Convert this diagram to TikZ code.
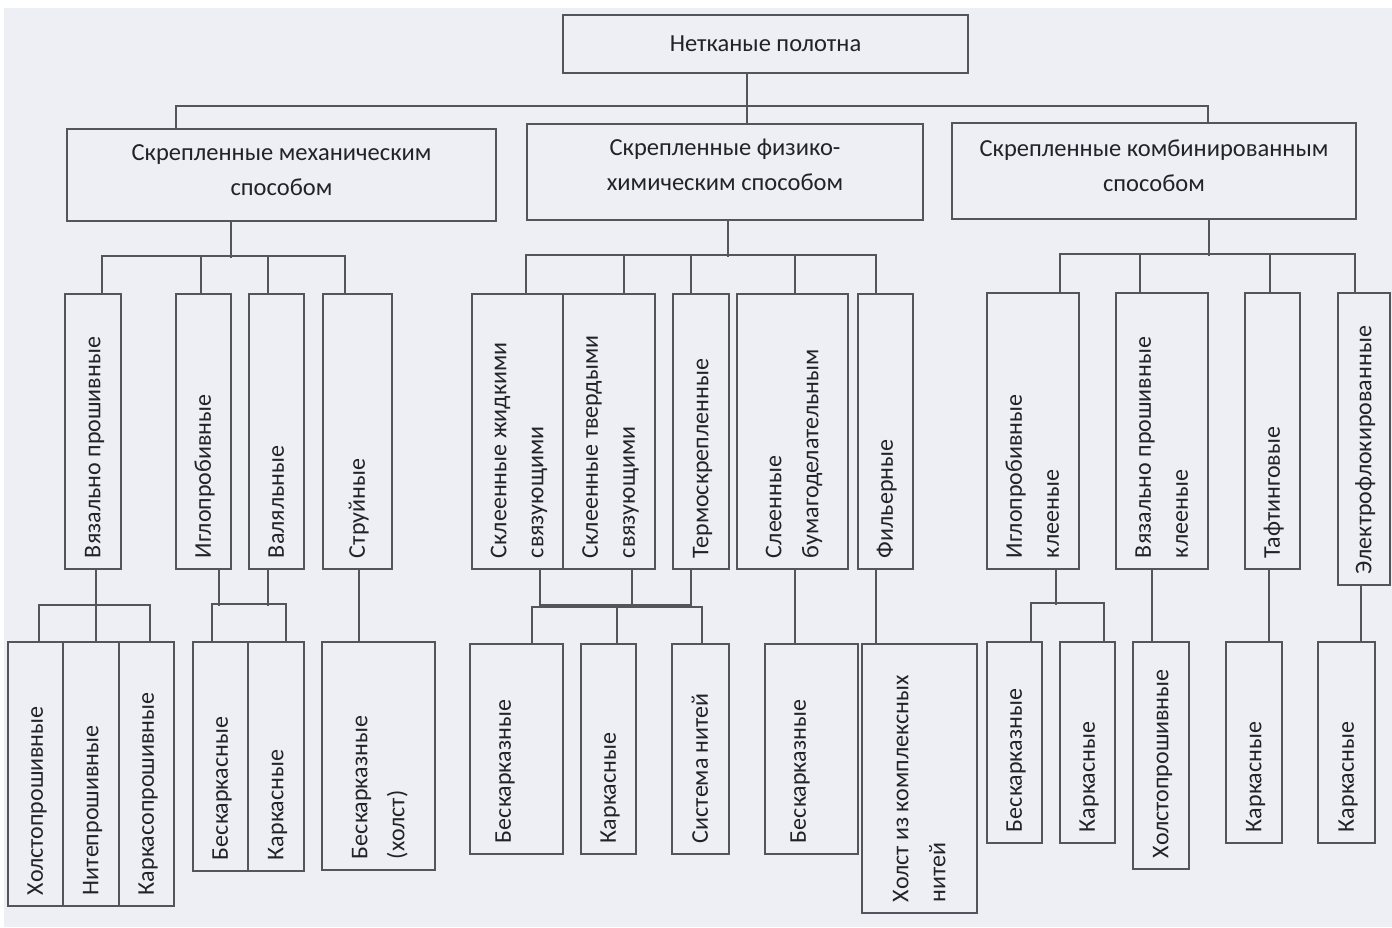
\documentclass[tikz,border=0pt]{standalone}
\usepackage{fontspec}
\setmainfont{Carlito}
\usetikzlibrary{calc}

\definecolor{paper}{RGB}{238,238,245}
\definecolor{ink}{RGB}{84,84,92}
\definecolor{txt}{RGB}{34,34,40}

\tikzset{
  box/.style={draw=ink, line width=1.7pt, inner sep=0pt, text=txt},
  hbox/.style={box, align=center, font=\fontsize{24.5}{35}\selectfont},
  link/.style={draw=ink, line width=1.7pt},
}

% text turned upwards, starting 11pt above the bottom of a box of height #1
\newcommand{\vtext}[2]{\rotatebox{90}{\makebox[\dimexpr#1-22pt\relax][l]{\begin{tabular}{@{}l@{}}#2\end{tabular}}}}
% upright box from (#2,#3) to (#4,#5), y measured downwards
\newcommand{\vnode}[6]{\node[box, minimum width={#4-#2}, minimum height={#5-#3}] (#1) at ({(#2+#4)/2},{-(#3+#5)/2}) {\vtext{\dimexpr#5pt-#3pt\relax}{#6}};}

\begin{document}
\begin{tikzpicture}[x=1pt, y=1pt, every node/.style={font=\fontsize{24}{37}\selectfont}]
\useasboundingbox (0,0) rectangle (1392,-927);
\fill[white] (0,0) rectangle (1392,-927);
\fill[paper] (4,-8) rectangle (1392,-927);

% top levels
\node[hbox, minimum width=405, minimum height=58] (root) at (765.5,-44) {Нетканые полотна};
\node[hbox, minimum width=429, minimum height=92, text depth=9pt] (mech) at (281.5,-175) {Скрепленные механическим\\способом};
\node[hbox, minimum width=396, minimum height=96, text depth=15pt] (phys) at (725,-172) {Скрепленные физико-\\химическим способом};
\node[hbox, minimum width=404, minimum height=96, text depth=11pt] (comb) at (1154,-171) {Скрепленные комбинированным\\способом};

% second level
\vnode{vp}{65}{294}{121}{569}{Вязально прошивные}
\vnode{igl}{176}{294}{231}{569}{Иглопробивные}
\vnode{val}{249}{294}{304}{569}{Валяльные}
\vnode{str}{323}{294}{392}{569}{Струйные}
\vnode{skzh}{472}{294}{563}{569}{Склеенные жидкими\\связующими}
\vnode{sktv}{563}{294}{655}{569}{Склеенные твердыми\\связующими}
\vnode{term}{673}{294}{729}{569}{Термоскрепленные}
\vnode{sleen}{737}{294}{848}{569}{Слеенные\\бумагоделательным}
\vnode{fil}{858}{294}{913}{569}{Фильерные}
\vnode{igk}{987}{293}{1079}{569}{Иглопробивные\\клееные}
\vnode{vpk}{1116}{293}{1208}{569}{Вязально прошивные\\клееные}
\vnode{taft}{1245}{293}{1300}{569}{Тафтинговые}
\vnode{el}{1338}{293}{1390}{585}{Электрофлокированные}

% third level
\vnode{hp}{8}{642}{63}{906}{Холстопрошивные}
\vnode{np}{63}{642}{119}{906}{Нитепрошивные}
\vnode{kp}{119}{642}{174}{906}{Каркасопрошивные}
\vnode{bk1}{193}{642}{248}{871}{Бескаркасные}
\vnode{k1}{248}{642}{304}{871}{Каркасные}
\vnode{bkh}{322}{642}{435}{870}{Бескарказные\\(холст)}
\vnode{bk2}{470}{644}{563}{854}{Бескарказные\\[-11pt]\mbox{}}
\vnode{k2}{581}{644}{636}{854}{Каркасные}
\vnode{sn}{672}{644}{729}{854}{Система нитей}
\vnode{bk3}{765}{644}{858}{854}{Бескарказные\\[-11pt]\mbox{}}
\vnode{hkn}{862}{644}{977}{913}{Холст из комплексных\\нитей}
\vnode{bk4}{987}{642}{1042}{843}{Бескарказные}
\vnode{k4}{1060}{642}{1115}{843}{Каркасные}
\vnode{hp2}{1133}{642}{1189}{869}{Холстопрошивные}
\vnode{k5}{1226}{642}{1282}{843}{Каркасные}
\vnode{k6}{1318}{642}{1375}{843}{Каркасные}

% root to first level
\draw[link] ($(root.south)+(-18.5,0)$) -- ++(0,-34);
\draw[link] ($(mech.north west)+(110,0)$) |- ($(comb.north west)+(257,16)$) -- ($(comb.north west)+(257,0)$);
\draw[link] ($(phys.north)+(22,0)$) -- ++(0,17);

% mechanical
\draw[link] ($(mech.south)+(-50.5,0)$) -- ++(0,-36);
\draw[link] ($(vp.north)+(9,0)$) |- ($(str.north)+(-12.5,37)$) -- ($(str.north)+(-12.5,0)$);
\draw[link] ($(igl.north)+(-2.5,0)$) -- ++(0,37);
\draw[link] ($(val.north)+(-8.5,0)$) -- ++(0,37);

% physico-chemical
\draw[link] ($(phys.south)+(3,0)$) -- ++(0,-36);
\draw[link] ($(skzh.north)+(8.5,0)$) |- ($(fil.north)+(-9.5,38)$) -- ($(fil.north)+(-9.5,0)$);
\draw[link] ($(sktv.north)+(15,0)$) -- ++(0,38);
\draw[link] ($(term.north)+(-10,0)$) -- ++(0,38);
\draw[link] ($(sleen.north)+(2.5,0)$) -- ++(0,38);

% combined
\draw[link] ($(comb.south)+(55,0)$) -- ++(0,-36);
\draw[link] ($(igk.north)+(27,0)$) |- ($(el.north)+(-9,38)$) -- ($(el.north)+(-9,0)$);
\draw[link] ($(vpk.north)+(-22,0)$) -- ++(0,38);
\draw[link] ($(taft.north)+(-2.5,0)$) -- ++(0,38);

% second to third level
\draw[link] ($(vp.south)+(3,0)$) -- ++(0,-37);
\draw[link] ($(hp.north)+(3.5,0)$) |- ($(kp.north)+(3.5,36)$) -- ($(kp.north)+(3.5,0)$);
\draw[link] ($(np.north)+(5,0)$) -- ++(0,36);

\draw[link] ($(igl.south)+(15.5,0)$) -- ++(0,-36);
\draw[link] ($(val.south)+(-8.5,0)$) -- ++(0,-36);
\draw[link] ($(bk1.north)+(-8.5,0)$) |- ($(k1.north)+(10,37)$) -- ($(k1.north)+(10,0)$);

\draw[link] ($(str.south)+(1.5,0)$) -- ($(bkh.north)+(-19.5,0)$);

\draw[link] ($(skzh.south)+(22.5,0)$) |- ($(term.south)+(-10,-35)$) -- ($(term.south)+(-10,0)$);
\draw[link] ($(sktv.south)+(23,0)$) -- ++(0,-35);
\draw[link] ($(bk2.north)+(15.5,0)$) |- ($(sn.north)+(1.5,36)$) -- ($(sn.north)+(1.5,0)$);
\draw[link] ($(k2.north)+(8.5,0)$) -- ++(0,36);

\draw[link] ($(sleen.south)+(2.5,0)$) -- ($(bk3.north)+(-16.5,0)$);
\draw[link] ($(fil.south)+(-9.5,0)$) -- ($(hkn.north)+(-43.5,0)$);

\draw[link] ($(igk.south)+(23,0)$) -- ++(0,-35);
\draw[link] ($(bk4.north)+(16.5,0)$) |- ($(k4.north)+(16.5,38)$) -- ($(k4.north)+(16.5,0)$);
\draw[link] ($(vpk.south)+(-10,0)$) -- ($(hp2.north)+(-9,0)$);
\draw[link] ($(taft.south)+(-3.5,0)$) -- ($(k5.north)+(15,0)$);
\draw[link] ($(el.south)+(-3,0)$) -- ($(k6.north)+(14.5,0)$);
\end{tikzpicture}
\end{document}
